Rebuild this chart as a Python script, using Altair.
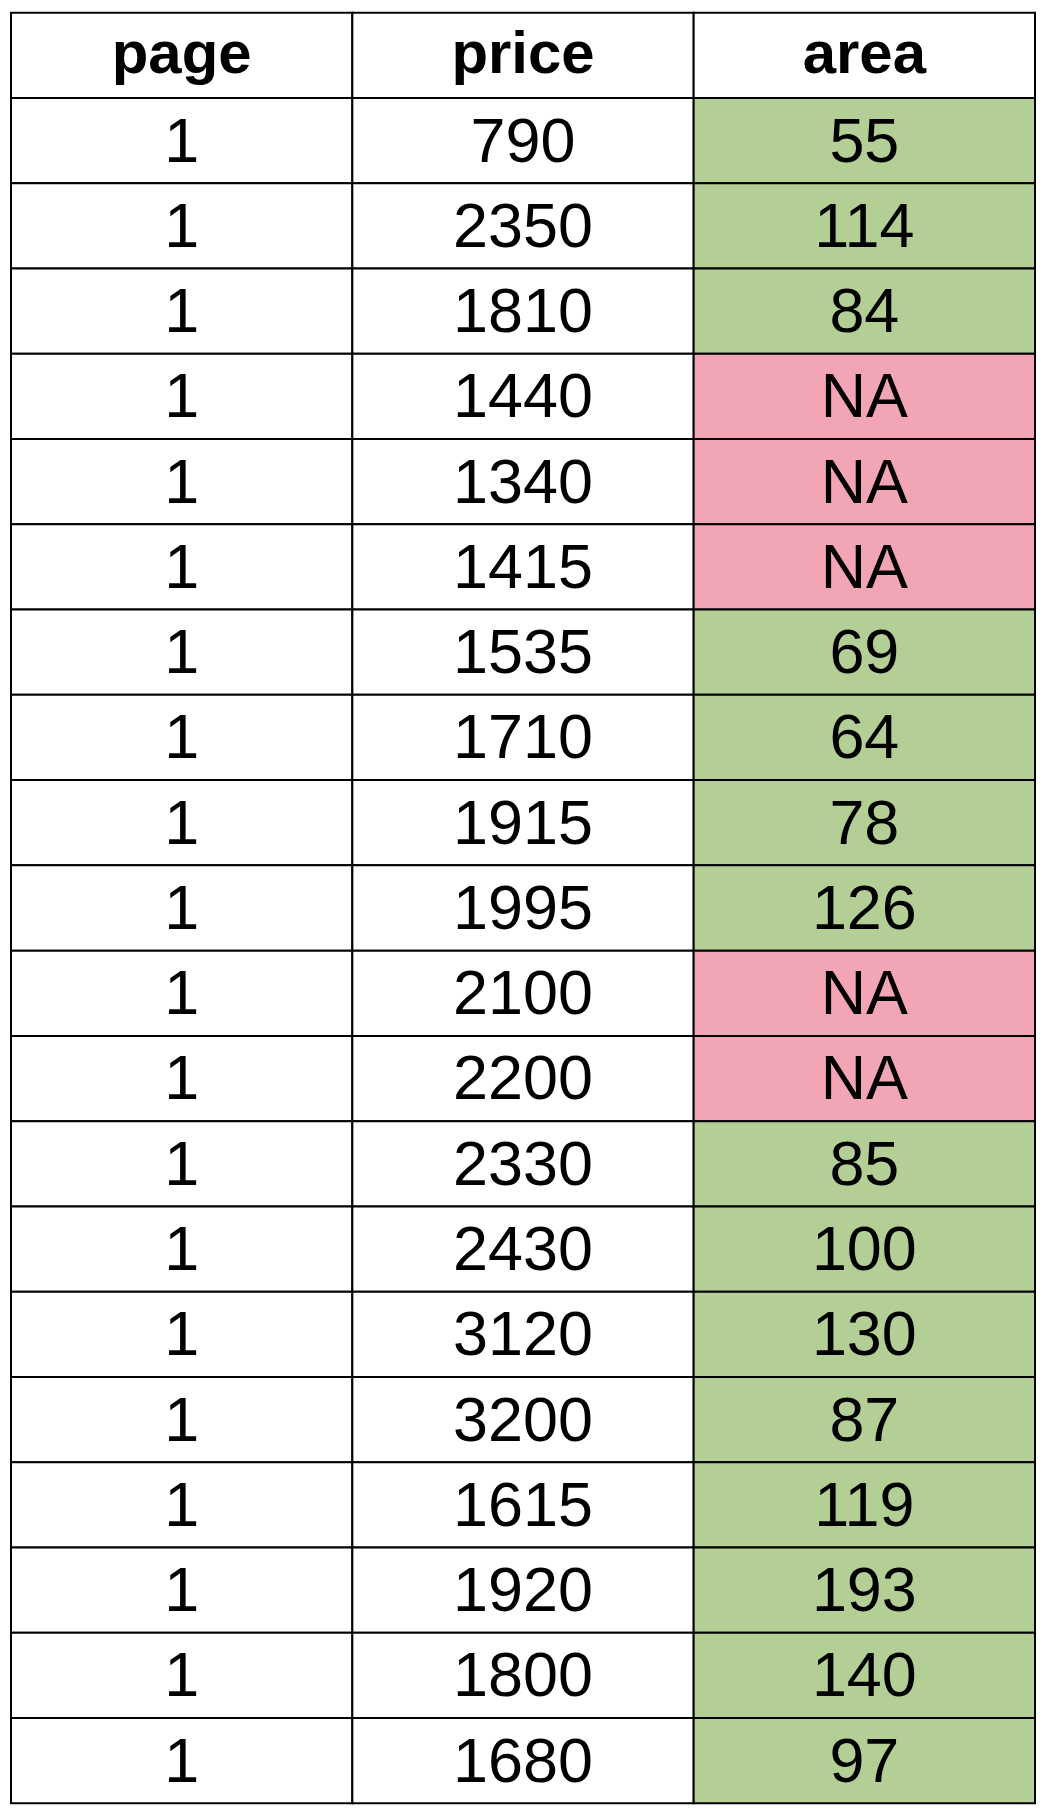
import altair as alt
import pandas as pd

columns = ["page", "price", "area"]
page = [1] * 20
price = [790, 2350, 1810, 1440, 1340, 1415, 1535, 1710, 1915, 1995,
         2100, 2200, 2330, 2430, 3120, 3200, 1615, 1920, 1800, 1680]
area = ["55", "114", "84", "NA", "NA", "NA", "69", "64", "78", "126",
        "NA", "NA", "85", "100", "130", "87", "119", "193", "140", "97"]

rows = []
for c in columns:
    rows.append({"row": 0, "col": c, "text": c, "fill": "white", "bold": True})
for i in range(len(price)):
    rows.append({"row": i + 1, "col": "page", "text": str(page[i]), "fill": "white", "bold": False})
    rows.append({"row": i + 1, "col": "price", "text": str(price[i]), "fill": "white", "bold": False})
    rows.append({"row": i + 1, "col": "area", "text": area[i],
                 "fill": "#f2a5b4" if area[i] == "NA" else "#b3cf96", "bold": False})
df = pd.DataFrame(rows)

x = alt.X("col:N", sort=columns, axis=None, scale=alt.Scale(paddingInner=0, paddingOuter=0))
y = alt.Y("row:O", axis=None, scale=alt.Scale(paddingInner=0, paddingOuter=0))

cells = alt.Chart(df).mark_rect(stroke="black", strokeWidth=2).encode(
    x=x, y=y, fill=alt.Fill("fill:N", scale=None)
)
body = alt.Chart(df).transform_filter("!datum.bold").mark_text(
    font="Liberation Sans", fontSize=63, color="black", dy=2
).encode(x=x, y=y, text="text:N")
head = alt.Chart(df).transform_filter("datum.bold").mark_text(
    font="Liberation Sans", fontSize=60, fontWeight="bold", color="black"
).encode(x=x, y=y, text="text:N")

chart = (cells + body + head).properties(
    width=1026, height=1794, padding=2
).configure_view(stroke=None)

chart.save("out.html", embed_options={"renderer": "svg", "actions": False})
